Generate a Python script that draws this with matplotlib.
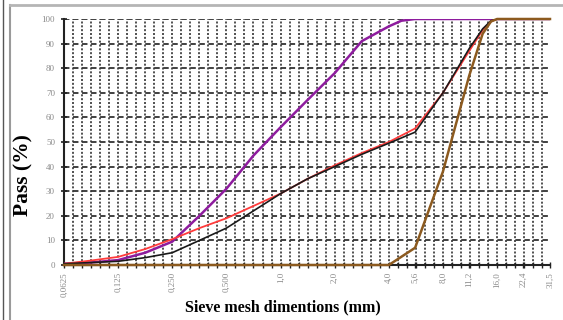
import numpy as np
import matplotlib
matplotlib.use("Agg")
import matplotlib.pyplot as plt
from matplotlib.lines import Line2D

# ---- data (sieve size in mm, % passing) ----
tick_sizes = [0.0625, 0.125, 0.25, 0.5, 1.0, 2.0, 4.0, 5.6, 8.0, 11.2, 16.0, 22.4, 31.5]
tick_labels = ["0,0625", "0,125", "0,250", "0,500", "1,0", "2,0", "4,0", "5,6",
               "8,0", "11,2", "16,0", "22,4", "31,5"]

purple_x = [0.0625, 0.088, 0.125, 0.177, 0.25, 0.354, 0.5, 0.707, 1.0, 1.41, 2.0, 2.83, 4.0, 4.7, 5.6, 8.0, 11.2, 16.0, 22.4, 31.5]
purple_y = [0.5, 1.0, 2.0, 5.0, 9.5, 20.0, 31.0, 44.5, 56.0, 67.0, 78.0, 91.0, 97.0, 99.3, 100, 100, 100, 100, 100, 100]

red_x = [0.0625, 0.088, 0.125, 0.177, 0.25, 0.354, 0.5, 0.707, 1.0, 1.41, 2.0, 2.83, 4.0, 5.6, 8.0, 11.2, 13.3, 14.8, 16.0, 22.4, 31.5]
red_y = [0.5, 1.8, 3.3, 6.5, 10.5, 15.0, 19.0, 24.0, 29.0, 35.0, 40.5, 45.5, 50.0, 55.5, 70.0, 87.0, 95.5, 99.0, 100, 100, 100]

black_x = [0.0625, 0.088, 0.125, 0.177, 0.25, 0.354, 0.5, 0.707, 1.0, 1.41, 2.0, 2.83, 4.0, 5.6, 8.0, 11.2, 13.3, 14.8, 16.0, 22.4, 31.5]
black_y = [0.5, 1.0, 1.5, 3.0, 5.0, 10.0, 15.0, 22.0, 29.0, 35.0, 40.0, 45.0, 49.5, 54.0, 70.0, 88.0, 96.0, 99.3, 100, 100, 100]

brown_x = [0.0625, 0.125, 0.25, 0.5, 1.0, 2.0, 4.0, 5.6, 8.0, 11.2, 13.3, 14.8, 16.0, 22.4, 31.5]
brown_y = [0, 0, 0, 0, 0, 0, 0, 7.0, 38.0, 77.0, 94.0, 99.0, 100, 100, 100]

yticks = list(range(0, 101, 10))

# ---- figure ----
W, H = 563, 320
fig = plt.figure(figsize=(W / 100, H / 100), dpi=100)
plt.rcParams['font.family'] = ['Liberation Serif', 'DejaVu Serif']

# frame decorations
fig.add_artist(Line2D([2.5 / W, 2.5 / W], [0, 1], color='#555555', lw=1.0, transform=fig.transFigure))
fig.add_artist(Line2D([10 / W, 10 / W], [0, 1 - 5 / H], color='#9a9a9a', lw=1.5, transform=fig.transFigure))
fig.add_artist(Line2D([10 / W, 1], [1 - 5 / H, 1 - 5 / H], color='#b5b5b5', lw=2.0, transform=fig.transFigure))

ax = fig.add_axes([64 / W, 1 - 265 / H, (550 - 64) / W, (265 - 19) / H])
ax.set_xscale('log', base=2)
ax.set_xlim(0.0625, 31.5)
ax.set_ylim(0, 100)

# grid: vertical dotted every 1/6 doubling, horizontal dashed every 10
grid_x = [0.0625 * 2 ** (k / 6) for k in range(0, 55) if 0.0625 * 2 ** (k / 6) <= 31.6]
for gx in grid_x:
    ax.axvline(gx, color='#333333', lw=1.2, ls=(0, (1.2, 1.1)), zorder=1)
for gy in yticks[1:]:
    ax.axhline(gy, color='#333333', lw=1.3, ls=(0, (3, 2)), zorder=1)

ax.plot(purple_x, purple_y, color='#8E1C9E', lw=1.8, zorder=3)
ax.plot(red_x, red_y, color='#FF3B3B', lw=1.3, zorder=4)
ax.plot(black_x, black_y, color='#1a1a1a', lw=1.2, zorder=5)
ax.plot(brown_x, brown_y, color='#8C5A1F', lw=1.8, zorder=6, clip_on=False)

for s in ['top', 'right']:
    ax.spines[s].set_visible(False)
ax.spines['left'].set_color('#222222')
ax.spines['left'].set_linewidth(1.5)
ax.spines['bottom'].set_color('#222222')
ax.spines['bottom'].set_linewidth(1.5)

ax.set_yticks(yticks)
ax.set_yticklabels([str(v) for v in yticks])
ax.tick_params(axis='y', direction='inout', length=5, width=1.2, color='#222222',
               labelsize=6.5, labelcolor='#8a8a8a', pad=4)

ax.set_xticks(tick_sizes)
ax.set_xticklabels(tick_labels, rotation=90)
ax.set_xticks(grid_x, minor=True)
ax.xaxis.set_minor_formatter(matplotlib.ticker.NullFormatter())
ax.tick_params(axis='x', which='both', direction='inout', length=4, width=1.0, color='#222222',
               labelsize=6.5, labelcolor='#8a8a8a', pad=3)

fig.text(283 / W, 1 - 307 / H, 'Sieve mesh dimentions (mm)', fontsize=11.5, fontweight='bold',
         ha='center', va='center')
fig.text(23 / W, 1 - 175 / H, 'Pass (%)', fontsize=15.5, fontweight='bold',
         ha='center', va='center', rotation=90)

fig.savefig('out.png', dpi=100)
